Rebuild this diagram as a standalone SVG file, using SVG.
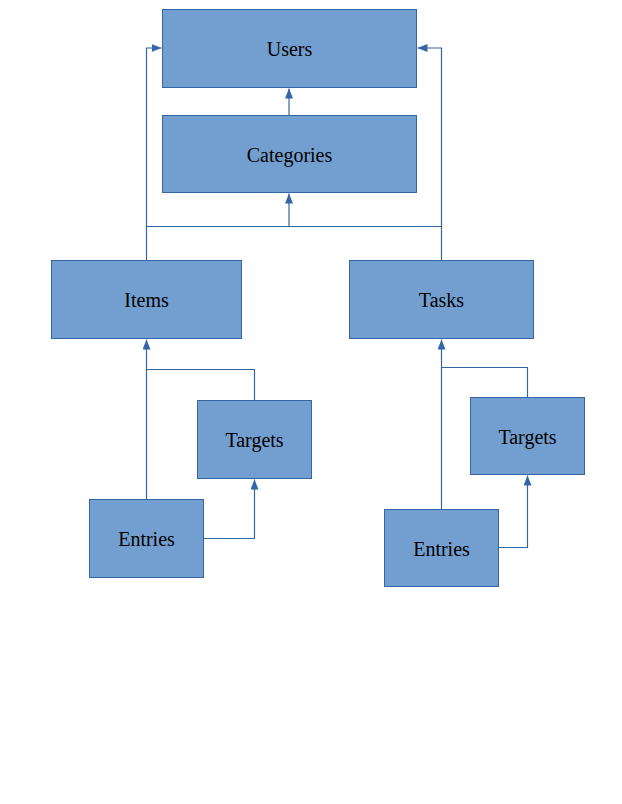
<svg xmlns="http://www.w3.org/2000/svg" width="622" height="804" viewBox="0 0 622 804">
<style>
.box{fill:#729fcf;stroke:#3465a4;stroke-width:1}
.lbl{font-family:"Liberation Serif","Times New Roman",serif;font-size:20px;fill:#000;text-anchor:middle;dominant-baseline:central}
.ln{fill:none;stroke:#3465a4;stroke-width:1.2}
</style>
<defs>
<marker id="ah" viewBox="0 0 10 8" refX="10" refY="4" markerWidth="10" markerHeight="8" markerUnits="userSpaceOnUse" orient="auto">
<path d="M0,0 L10,4 L0,8 Z" fill="#3465a4"/>
</marker>
</defs>
<rect width="622" height="804" fill="#fff"/>
<g id="connectors">
<path class="ln" d="M289,115 V88.5" marker-end="url(#ah)"/>
<path class="ln" d="M146.5,260 V226.5 H441.5 V260"/>
<path class="ln" d="M289,226.5 V193.5" marker-end="url(#ah)"/>
<path class="ln" d="M146.5,226.5 V48 H161.5" marker-end="url(#ah)"/>
<path class="ln" d="M441.5,226.5 V48 H417.5" marker-end="url(#ah)"/>
<path class="ln" d="M146.5,499 V339.5" marker-end="url(#ah)"/>
<path class="ln" d="M254.5,400 V369.5 H146.5"/>
<path class="ln" d="M204,538.5 H254.5 V479.5" marker-end="url(#ah)"/>
<path class="ln" d="M441.5,509 V339.5" marker-end="url(#ah)"/>
<path class="ln" d="M527.5,397 V367.5 H441.5"/>
<path class="ln" d="M499,547.5 H527.5 V475.5" marker-end="url(#ah)"/>
</g>
<g id="users"><rect class="box" x="162.5" y="9.5" width="254" height="78"/><text class="lbl" x="289.5" y="49">Users</text></g>
<g id="categories"><rect class="box" x="162.5" y="115.5" width="254" height="77"/><text class="lbl" x="289.5" y="154.5">Categories</text></g>
<g id="items"><rect class="box" x="51.5" y="260.5" width="190" height="78"/><text class="lbl" x="146.5" y="300">Items</text></g>
<g id="tasks"><rect class="box" x="349.5" y="260.5" width="184" height="78"/><text class="lbl" x="441.5" y="300">Tasks</text></g>
<g id="targets-items"><rect class="box" x="197.5" y="400.5" width="114" height="78"/><text class="lbl" x="254.5" y="440">Targets</text></g>
<g id="entries-items"><rect class="box" x="89.5" y="499.5" width="114" height="78"/><text class="lbl" x="146.5" y="539">Entries</text></g>
<g id="targets-tasks"><rect class="box" x="470.5" y="397.5" width="114" height="77"/><text class="lbl" x="527.5" y="436.5">Targets</text></g>
<g id="entries-tasks"><rect class="box" x="384.5" y="509.5" width="114" height="77"/><text class="lbl" x="441.5" y="548.5">Entries</text></g>
</svg>
